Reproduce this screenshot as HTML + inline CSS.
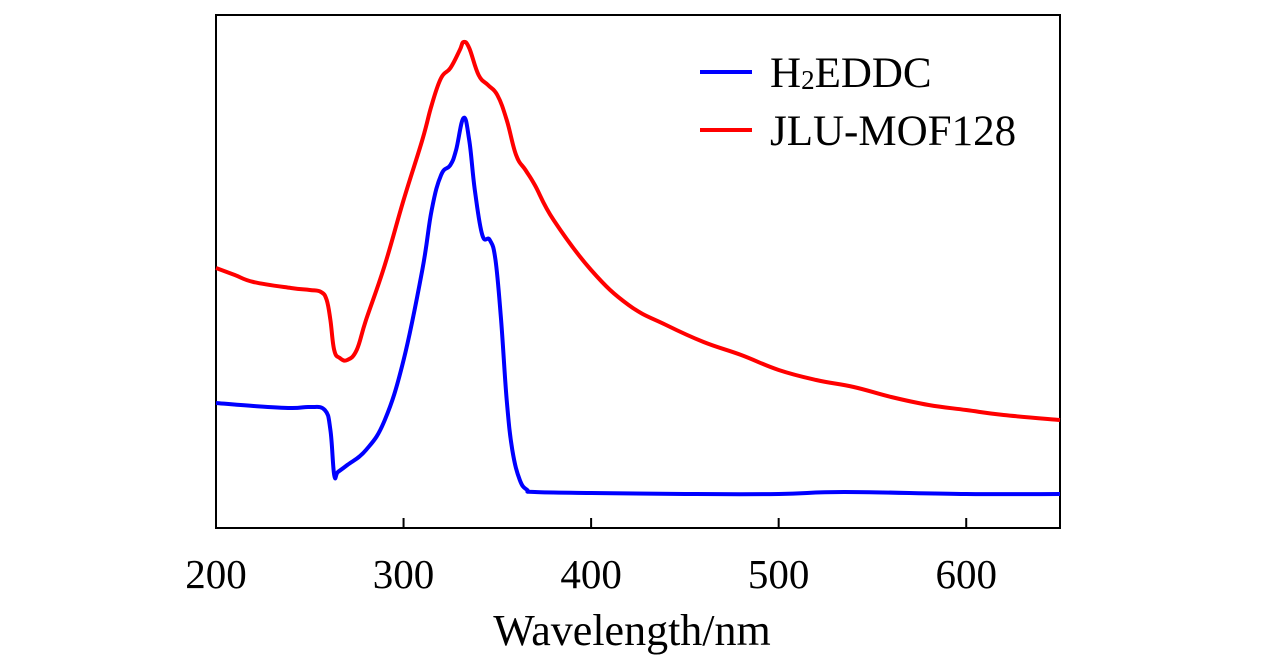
<!DOCTYPE html>
<html><head><meta charset="utf-8"><style>
body{margin:0;background:#fff}
svg{display:block;font-family:"Liberation Serif",serif}
</style></head><body>
<svg id="chart" width="1276" height="661">
<rect x="216" y="15" width="844" height="513" fill="none" stroke="#000" stroke-width="2"/>
<g id="ticks"></g>
<g id="series"></g>
<text x="632" y="645" text-anchor="middle" font-size="44">Wavelength/nm</text>
<g>
<line x1="700" y1="72" x2="752" y2="72" stroke="#0000ff" stroke-width="4"/>
<text x="770" y="87" font-size="43">H<tspan font-size="27" dy="2">2</tspan><tspan dy="-2">EDDC</tspan></text>
<line x1="700" y1="130" x2="752" y2="130" stroke="#ff0000" stroke-width="4"/>
<text x="770" y="145" font-size="43">JLU-MOF128</text>
</g>
</svg>
<script>
const xTicks=[200,300,400,500,600];
const blueX=[200,220,240,250,258,261,263,265,270,280,290,300,310,315,320,325,328,332,335,338,342,346,349,352,355,358,362,366,370,400,450,500,535,600,650];
const blueY=[125,122,120,121,118,98,53,56,63,78,108,168,258,318,353,363,378,410,388,338,293,288,268,208,128,78,48,38,36,35,34,34,36,34,34];
const redX=[200,210,220,240,250,256,259,261,263,266,270,275,280,290,300,310,315,320,325,330,332,335,340,345,350,355,360,365,370,380,400,420,440,460,480,500,520,540,560,580,600,620,650];
const redY=[260,253,246,240,238,236,228,208,178,170,168,178,208,263,328,388,423,450,460,478,486,480,453,443,433,408,373,358,343,308,258,223,203,186,173,158,148,141,131,123,118,113,108];
const NS="http://www.w3.org/2000/svg";
const xs=v=>216+(v-200)*844/450;
const ys=v=>528-v;
const tg=document.getElementById('ticks');
xTicks.forEach(t=>{
 const l=document.createElementNS(NS,'line');
 l.setAttribute('x1',xs(t));l.setAttribute('x2',xs(t));l.setAttribute('y1',528);l.setAttribute('y2',518);
 l.setAttribute('stroke','#000');l.setAttribute('stroke-width','2');
 
 
 tg.appendChild(l);
 const tx=document.createElementNS(NS,'text');
 tx.setAttribute('x',xs(t));tx.setAttribute('y',588);tx.setAttribute('text-anchor','middle');tx.setAttribute('font-size','41');
 tx.textContent=t;
 
 
 tg.appendChild(tx);
});
const sg=document.getElementById('series');
function draw(X,Y,c,n){
 const P=X.map((x,i)=>[xs(x),ys(Y[i])]);
 let d='M'+P[0][0].toFixed(1)+','+P[0][1].toFixed(1);
 for(let i=0;i<P.length-1;i++){
  const p0=P[i-1]||P[i],p1=P[i],p2=P[i+1],p3=P[i+2]||P[i+1];
  const k=0.2;
  const c1=[p1[0]+(p2[0]-p0[0])*k,p1[1]+(p2[1]-p0[1])*k];
  const c2=[p2[0]-(p3[0]-p1[0])*k,p2[1]-(p3[1]-p1[1])*k];
  d+='C'+c1.map(v=>v.toFixed(1)).join(',')+' '+c2.map(v=>v.toFixed(1)).join(',')+' '+p2.map(v=>v.toFixed(1)).join(',');
 }
 const p=document.createElementNS(NS,'path');
 p.setAttribute('d',d);
 p.setAttribute('fill','none');p.setAttribute('stroke',c);p.setAttribute('stroke-width','4');p.setAttribute('stroke-linejoin','round');
 
 
 sg.appendChild(p);
}
draw(redX,redY,'#ff0000','series-jlu-mof128');
draw(blueX,blueY,'#0000ff','series-h2eddc');
</script>
</body></html>
